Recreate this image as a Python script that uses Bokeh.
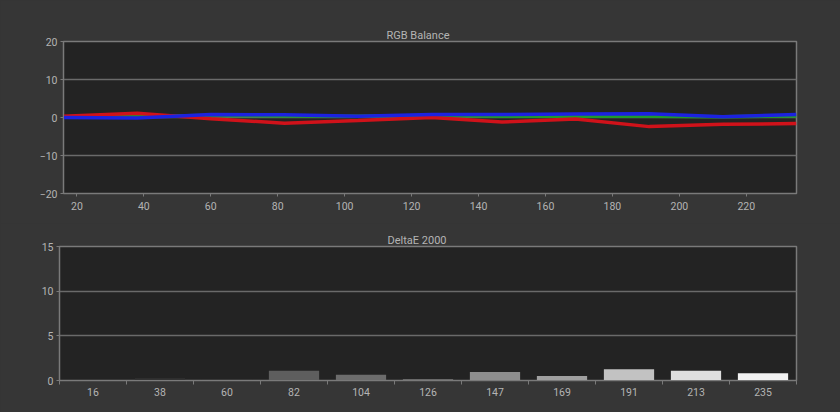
from bokeh.plotting import figure
from bokeh.layouts import column, row
from bokeh.models import Range1d, FixedTicker
from bokeh.embed import file_html
from bokeh.resources import INLINE

# ---- data ----
levels = [16, 38, 60, 82, 104, 126, 147, 169, 191, 213, 235]
red_bal = [0.3, 1.1, -0.3, -1.5, -0.8, 0.0, -1.2, -0.4, -2.4, -1.8, -1.6]
green_bal = [0.2, 0.3, 0.5, 0.4, 0.3, 0.5, 0.3, 0.3, 0.3, 0.2, 0.4]
blue_bal = [0.0, -0.1, 0.8, 0.7, 0.3, 0.8, 0.8, 0.9, 1.0, 0.2, 0.8]
delta_e = [0.05, 0.25, 0.1, 1.1, 0.65, 0.15, 0.95, 0.5, 1.25, 1.1, 0.8]
bar_colors = ["#2c2c2c", "#333333", "#383838", "#5e5e5e", "#6c6c6c", "#7a7a7a",
              "#8e8e8e", "#a0a0a0", "#c2c2c2", "#dedede", "#f2f2f2"]
x_ticks = [20, 40, 60, 80, 100, 120, 140, 160, 180, 200, 220]
y_ticks_top = [-20, -10, 0, 10, 20]
y_ticks_bot = [0, 5, 10, 15]

FONT = "Roboto"
TXT = "#b4b4b4"
BG = "#363636"
PLOT_BG = "#232323"
GRID = "#6a6a6a"


def style(p, title_offset):
    p.background_fill_color = PLOT_BG
    p.border_fill_color = BG
    p.outline_line_color = "#7a7a7a"
    p.outline_line_width = 1.5
    p.title.text_color = TXT
    p.title.text_font = FONT
    p.title.text_font_size = "11px"
    p.title.text_font_style = "normal"
    p.title.align = "left"
    p.title.standoff = 0
    p.title.offset = title_offset
    for ax in p.axis:
        ax.axis_line_color = "#7a7a7a"
        ax.major_tick_line_color = "#7a7a7a"
        ax.minor_tick_line_color = "#7a7a7a"
        ax.major_label_text_color = TXT
        ax.major_label_text_font = FONT
        ax.major_label_text_font_size = "10.5px"
        ax.major_tick_in = 0
        ax.major_tick_out = 3
        ax.minor_tick_in = 0
        ax.minor_tick_out = 0
        ax.major_label_standoff = 3
    p.grid.grid_line_color = GRID
    p.grid.grid_line_width = 1.5
    p.xgrid.grid_line_color = None


# ---- top: RGB balance ----
p1 = figure(width=840, height=223, output_backend="svg", toolbar_location=None,
            title="RGB Balance", x_range=Range1d(16, 235), y_range=Range1d(-20, 20),
            min_border_left=63, min_border_right=44, min_border_top=41, min_border_bottom=30)
p1.xaxis.ticker = FixedTicker(ticks=x_ticks)
p1.yaxis.ticker = FixedTicker(ticks=y_ticks_top)
p1.line(levels, green_bal, line_color="#1f9a2a", line_width=3.5)
p1.line(levels, red_bal, line_color="#d0121a", line_width=3.5)
p1.line(levels, blue_bal, line_color="#1c22e0", line_width=3.5)
style(p1, 323)
p1.xaxis.axis_line_color = None
p1.xaxis.major_label_standoff = 5

# ---- bottom: DeltaE 2000 ----
n = len(levels)
centers = [i + 0.5 for i in range(n)]
p2 = figure(width=840, height=189, output_backend="svg", toolbar_location=None,
            title="DeltaE 2000", x_range=Range1d(0, n), y_range=Range1d(0, 15),
            min_border_left=59, min_border_right=44, min_border_top=23, min_border_bottom=32)
p2.vbar(x=centers, top=delta_e, bottom=0, width=0.75, fill_color=bar_colors,
        line_color=None)
p2.xaxis.ticker = FixedTicker(ticks=centers, minor_ticks=list(range(n + 1)))
p2.xaxis.major_label_overrides = {c: str(v) for c, v in zip(centers, levels)}
p2.yaxis.ticker = FixedTicker(ticks=y_ticks_bot)
style(p2, 328)
p2.xaxis.major_tick_line_color = None
p2.xaxis.minor_tick_out = 4
p2.xaxis.major_label_standoff = 3

layout = column(row(p1), row(p2), spacing=0, styles={"background-color": BG})
open("out.html", "w").write(file_html(layout, INLINE))
